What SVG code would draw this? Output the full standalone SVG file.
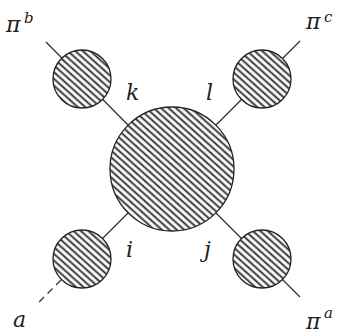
<svg xmlns="http://www.w3.org/2000/svg" width="339" height="334" viewBox="0 0 339 334">
<style>
.ln{stroke:#333;stroke-width:1.3;fill:none}
.dash{stroke:#333;stroke-width:1.3;fill:none;stroke-dasharray:7,5}
.blob{fill:url(#hatch);stroke:#222;stroke-width:1.3}
.lab{font-family:"DejaVu Serif","Liberation Serif",serif;font-style:italic;font-size:22px;fill:#222}
.sup{font-family:"DejaVu Serif","Liberation Serif",serif;font-style:italic;font-size:15px;fill:#222}
</style>
<defs>
<pattern id="hatch" patternUnits="userSpaceOnUse" width="5" height="5" patternTransform="rotate(42)">
<rect width="5" height="5" fill="#fff"/>
<line x1="0" y1="2.5" x2="5" y2="2.5" stroke="#222" stroke-width="1.8"/>
</pattern>
</defs>
<g id="connectors">
<line class="ln" x1="46" y1="42" x2="128" y2="125"/>
<line class="ln" x1="300" y1="41" x2="216" y2="125"/>
<line class="ln" x1="300" y1="297" x2="216" y2="213"/>
<line class="ln" x1="128" y1="213" x2="102" y2="239"/>
<line class="dash" x1="61" y1="280" x2="39" y2="302"/>
</g>
<g id="center"><circle class="blob" cx="172" cy="169" r="62"/></g>
<g id="tl"><circle class="blob" cx="82" cy="79" r="29"/></g>
<g id="tr"><circle class="blob" cx="262" cy="79" r="29"/></g>
<g id="bl"><circle class="blob" cx="82" cy="259" r="29"/></g>
<g id="br"><circle class="blob" cx="262" cy="259" r="29"/></g>
<g id="labels">
<text class="lab" x="6" y="32">π</text><text class="sup" x="24" y="23">b</text>
<text class="lab" x="306" y="29">π</text><text class="sup" x="324" y="22">c</text>
<text class="lab" x="306" y="329">π</text><text class="sup" x="324" y="318">a</text>
<text class="lab" x="13" y="327">a</text>
<text class="lab" x="126" y="100">k</text>
<text class="lab" x="206" y="100">l</text>
<text class="lab" x="126" y="257">i</text>
<text class="lab" x="204" y="257">j</text>
</g>
</svg>
